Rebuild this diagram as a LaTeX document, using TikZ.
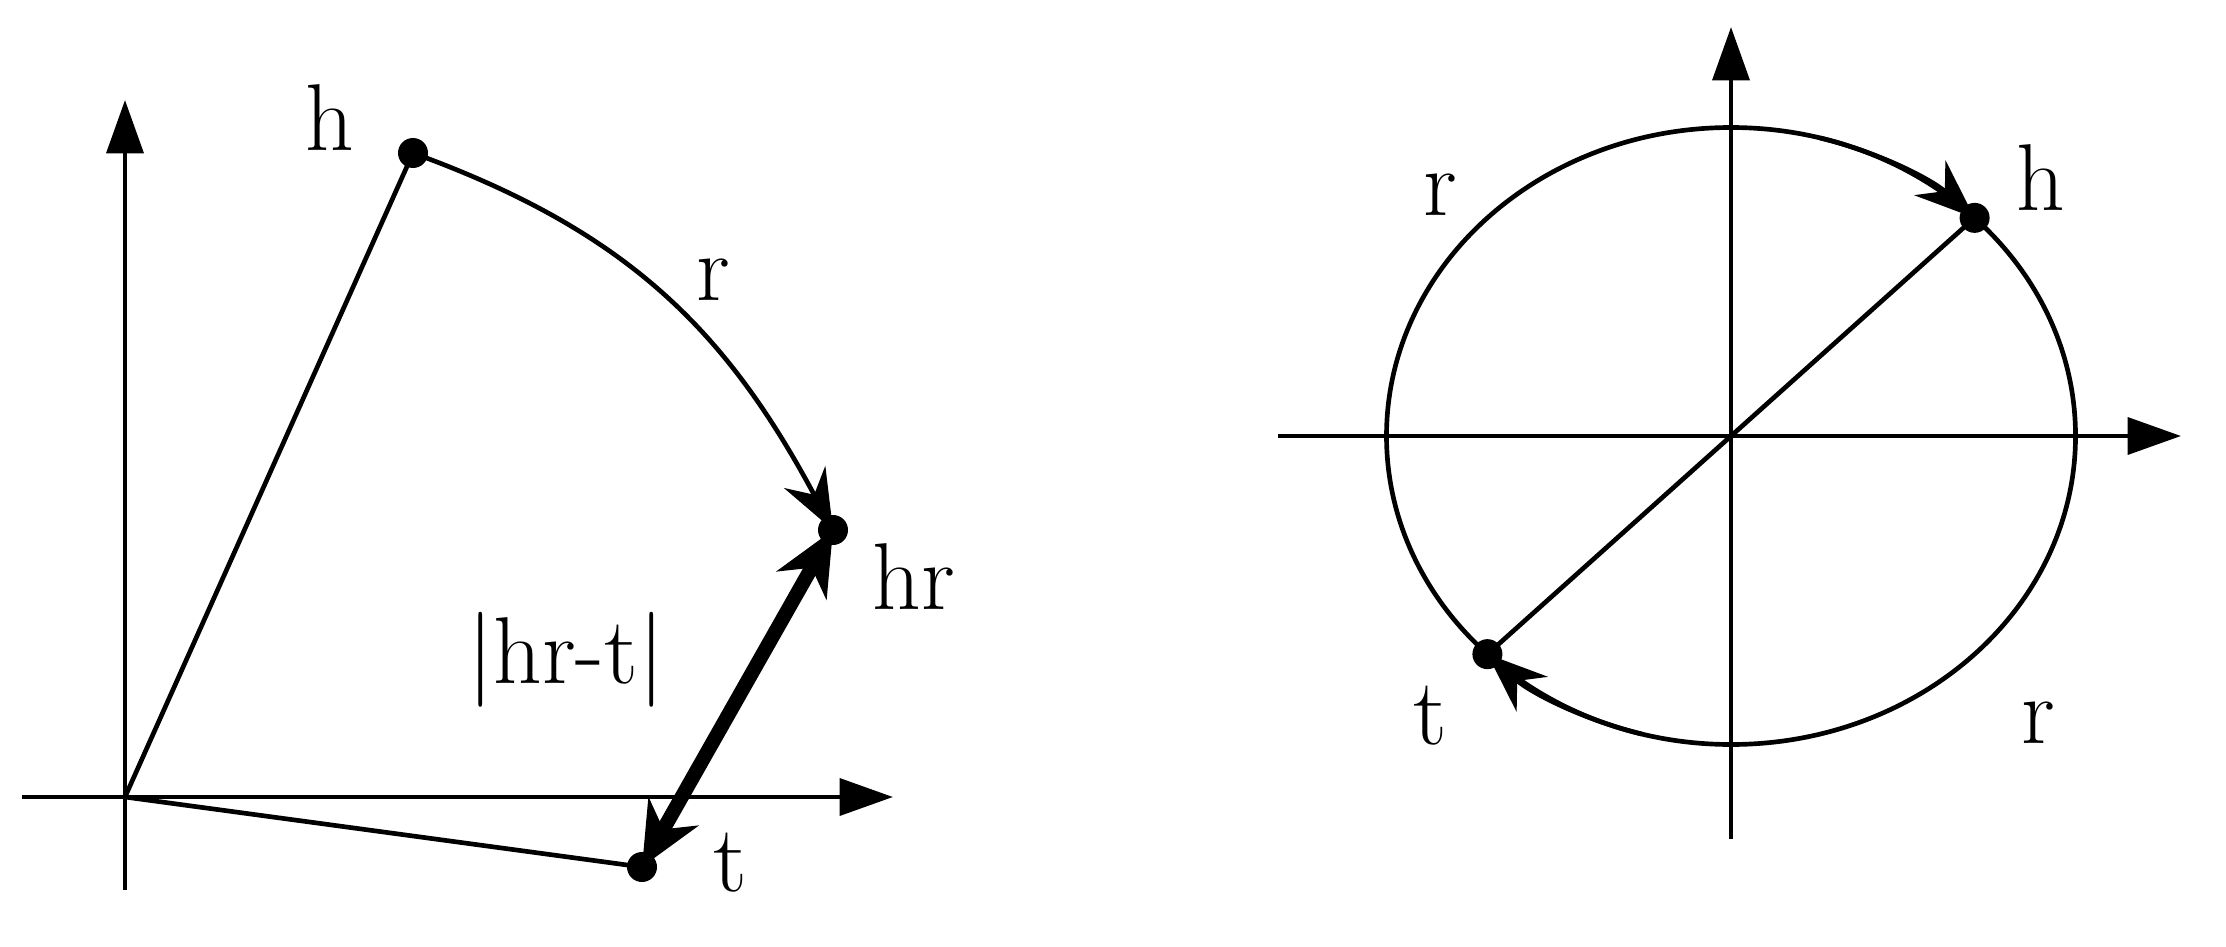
\documentclass[tikz,border=0pt]{standalone}
\usepackage{fontspec}
\usetikzlibrary{arrows.meta,calc}
\tikzset{
  axisline/.style={line width=1.4pt,-{Triangle[length=16pt,width=11pt]}},
  thinline/.style={line width=1.4pt},
  rotarrow/.style={line width=1.4pt,-{Stealth[length=18pt,width=14pt,inset=6pt]}},
  gaparrow/.style={line width=4.3pt,{Stealth[length=19pt,width=17pt,inset=6pt]}-{Stealth[length=19pt,width=17pt,inset=6pt]}},
  lbl/.style={inner sep=0pt,font=\fontsize{28.5}{34}\selectfont}
}
\begin{document}
\begin{tikzpicture}[x=0.3pt,y=0.3pt,yscale=-1]
\useasboundingbox (0,0) rectangle (2226,947);

%Left: translation picture
\coordinate (O) at (125,797);
\coordinate (h) at (413,153);
\coordinate (hr) at (833,530);
\coordinate (t) at (642,867);

%Shape: Axis 2D
\draw [axisline] (22,797) -- (893,797);
\draw [axisline] (125,890) -- (125,100);

%Straight Lines
\draw [thinline] (O) -- (h);
\draw [thinline] (O) -- (t);

%Curve Lines
\draw [rotarrow] (h) .. controls (625,230) and (725,328) .. (hr);

%Double arrow
\draw [gaparrow] (t) -- (hr);

%Shape: Circle
\fill (h) circle [radius=15];
\fill (hr) circle [radius=15];
\fill (t) circle [radius=15];

% Text Node
\node [lbl] (hlabel) at (330,118) {h};
% Text Node
\node [lbl] (rlabel) at (713,280) {r};
% Text Node
\node [lbl] (hrlabel) at (914,577) {hr};
% Text Node
\node [lbl] (dlabel) at (566,660) {|hr-t|};
% Text Node
\node [lbl] (tlabel) at (730,863) {t};

%Right: rotation picture
\coordinate (C) at (1731,436);
\coordinate (h2) at ($(C)+(-45:344.5 and 308.5)$);
\coordinate (t2) at ($(C)+(135:344.5 and 308.5)$);

%Shape: Axis 2D
\draw [axisline] (1278,436) -- (2181,436);
\draw [axisline] (1731,839) -- (1731,27);

%Shape: Ellipse
\draw [thinline] (C) ellipse [x radius=344.5, y radius=308.5];

%Curve Lines
\draw [rotarrow] ($(C)+(-75:344.5 and 308.5)$) arc [start angle=-75, end angle=-45, x radius=344.5, y radius=308.5];
\draw [rotarrow] ($(C)+(105:344.5 and 308.5)$) arc [start angle=105, end angle=135, x radius=344.5, y radius=308.5];

%Straight Lines
\draw [thinline] (t2) -- (h2);

%Shape: Circle
\fill (h2) circle [radius=15];
\fill (t2) circle [radius=15];

% Text Node
\node [lbl] (rtop) at (1440,195) {r};
% Text Node
\node [lbl] (h2label) at (2041,178) {h};
% Text Node
\node [lbl] (t2label) at (1430,716) {t};
% Text Node
\node [lbl] (rbottom) at (2038,723) {r};

\end{tikzpicture}
\end{document}
